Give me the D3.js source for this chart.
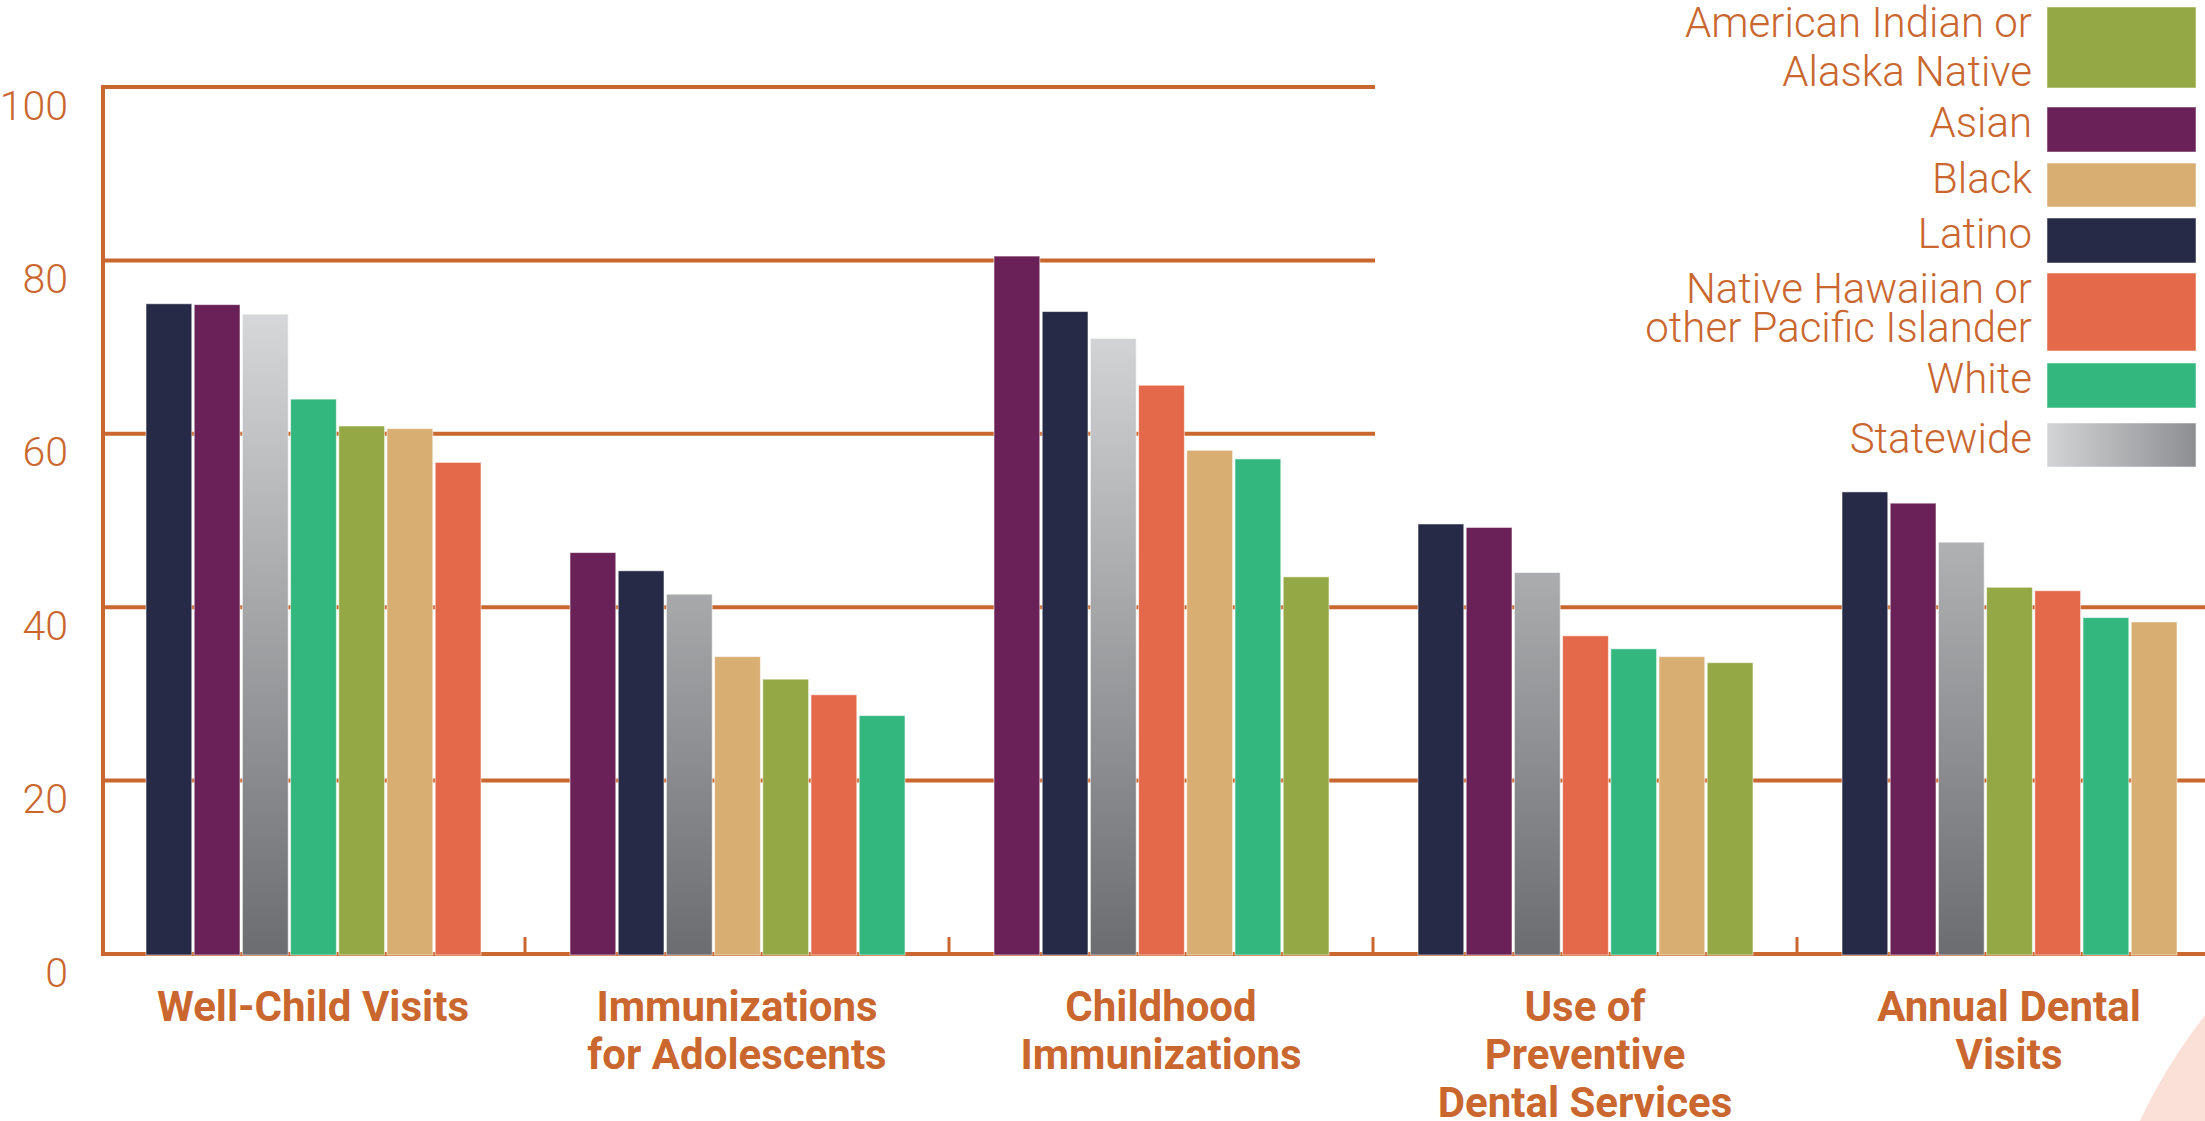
<!DOCTYPE html>
<html>
<head>
<meta charset="utf-8">
<script src="https://cdn.jsdelivr.net/npm/d3@7"></script>
<style>
  body { margin: 0; background: #fff; }
  svg { display: block; }
</style>
</head>
<body>
<div id="chart"></div>
<script>
// categories and values
const categories = ["Well-Child Visits", "Immunizations for Adolescents", "Childhood Immunizations", "Use of Preventive Dental Services", "Annual Dental Visits"]
const categoryLines = [["Well-Child Visits"], ["Immunizations", "for Adolescents"], ["Childhood", "Immunizations"], ["Use of", "Preventive", "Dental Services"], ["Annual Dental", "Visits"]]

const series = ["American Indian or Alaska Native", "Asian", "Black", "Latino", "Native Hawaiian or other Pacific Islander", "White", "Statewide"]
const seriesLines = [["American Indian or", "Alaska Native"], ["Asian"], ["Black"], ["Latino"], ["Native Hawaiian or", "other Pacific Islander"], ["White"], ["Statewide"]]

const aianValues = [60.9, 31.7, 43.5, 33.6, 42.3]
const asianValues = [74.9, 46.3, 80.5, 49.2, 52.0]
const blackValues = [60.6, 34.3, 58.1, 34.3, 38.3]
const latinoValues = [75.0, 44.2, 74.1, 49.6, 53.3]
const nhpiValues = [56.7, 29.9, 65.6, 36.7, 41.9]
const whiteValues = [64.0, 27.5, 57.1, 35.2, 38.8]
const statewideValues = [73.8, 41.5, 71.0, 44.0, 47.5]

const yTicks = [0, 20, 40, 60, 80, 100]

const valuesBySeries = [aianValues, asianValues, blackValues, latinoValues, nhpiValues, whiteValues, statewideValues]

const width = 2205
const height = 1121
const orange = "#c9672f"

const colors = {
    "American Indian or Alaska Native": "#94a945",
    "Asian": "#6a2157",
    "Black": "#d9ae73",
    "Latino": "#272a47",
    "Native Hawaiian or other Pacific Islander": "#e4694a",
    "White": "#33b77f",
    "Statewide": "url(#stateGrad)"
}

/* SCALES */
const x = d3.scaleBand()
    .domain(categories)
    .range([101, 2221])

const inner = d3.scaleBand()
    .domain(d3.range(series.length))
    .range([45, 380])
    .paddingInner(0.05)

const y = d3.scaleLinear()
    .domain([0, 100])
    .range([954, 87])

const svg = d3.select("#chart")
    .append("svg")
    .attr("width", width)
    .attr("height", height)
    .style("background-color", "#fff")

const defs = svg.append("defs")
const grad = defs.append("linearGradient")
    .attr("id", "stateGrad")
    .attr("gradientUnits", "userSpaceOnUse")
    .attr("x1", 0).attr("x2", 0)
    .attr("y1", y(78)).attr("y2", y(0))
grad.append("stop").attr("offset", "0%").attr("stop-color", "#dcdddf")
grad.append("stop").attr("offset", "100%").attr("stop-color", "#6c6d70")

const legGrad = defs.append("linearGradient")
    .attr("id", "legGrad")
    .attr("x1", "0%").attr("x2", "100%")
    .attr("y1", "0%").attr("y2", "0%")
legGrad.append("stop").attr("offset", "0%").attr("stop-color", "#d3d4d6")
legGrad.append("stop").attr("offset", "100%").attr("stop-color", "#8d8e91")

// decoration in the lower right corner
svg.append("circle")
    .attr("cx", 2630)
    .attr("cy", 1350)
    .attr("r", 541)
    .attr("fill", "#fbe0d8")

// GRIDLINES
svg.append("g")
    .selectAll("line.grid")
    .data(yTicks)
    .join("line")
    .attr("class", "grid")
    .attr("x1", 101)
    .attr("x2", d => d >= 60 ? 1375 : width)
    .attr("y1", d => y(d))
    .attr("y2", d => y(d))
    .attr("stroke", orange)
    .attr("stroke-width", 4)

// axis line
svg.append("line")
    .attr("x1", 103).attr("x2", 103)
    .attr("y1", y(100) - 2).attr("y2", y(0) + 2)
    .attr("stroke", orange)
    .attr("stroke-width", 4)

// small ticks between the groups
svg.append("g")
    .selectAll("line.sep")
    .data(categories.slice(1))
    .join("line")
    .attr("class", "sep")
    .attr("x1", d => x(d))
    .attr("x2", d => x(d))
    .attr("y1", y(0))
    .attr("y2", y(0) - 17)
    .attr("stroke", orange)
    .attr("stroke-width", 3)

// y labels
const yAxisGroup = svg.append("g")
    .attr("transform", "translate(103,0)")
    .call(d3.axisLeft(y).tickValues(yTicks).tickSize(0).tickPadding(35))
yAxisGroup.select(".domain").remove()
yAxisGroup.selectAll("text")
    .attr("dy", 32)
    .attr("fill", orange)
    .style("font-family", "Roboto, sans-serif")
    .style("font-weight", 300)
    .style("font-size", "41px")

// BARS
const groups = svg.selectAll("g.group")
    .data(categories)
    .join("g")
    .attr("class", "group")
    .attr("transform", d => `translate(${x(d)},0)`)

groups.selectAll("rect.bar")
    .data((c, ci) => series
        .map((s, si) => ({ series: s, value: valuesBySeries[si][ci] }))
        .sort((a, b) => b.value - a.value))
    .join("rect")
    .attr("class", "bar")
    .attr("x", (d, i) => inner(i))
    .attr("y", d => y(d.value))
    .attr("width", inner.bandwidth())
    .attr("height", d => y(0) - y(d.value) + 1)
    .attr("fill", d => colors[d.series])
    .attr("stroke", "rgba(255,255,255,0.55)")
    .attr("stroke-width", 1)

// category labels
svg.append("g")
    .selectAll("text.cat")
    .data(categories)
    .join("text")
    .attr("class", "cat")
    .attr("x", d => x(d) + x.bandwidth() / 2)
    .attr("y", 1021)
    .attr("text-anchor", "middle")
    .attr("fill", orange)
    .style("font-family", "Roboto, sans-serif")
    .style("font-weight", 700)
    .style("font-size", "42px")
    .selectAll("tspan")
    .data((d, i) => categoryLines[i])
    .join("tspan")
    .attr("x", function () { return this.parentNode.getAttribute("x") })
    .attr("dy", (d, i) => i === 0 ? 0 : 48)
    .text(d => d)

// LEGEND
const legendBoxes = [[7, 81], [107, 45], [163, 44], [218, 45], [273, 78], [363, 45], [423, 44]]
const legendLineGap = [49, 0, 0, 0, 39, 0, 0]

const legend = svg.append("g")
    .selectAll("g.leg")
    .data(series)
    .join("g")
    .attr("class", "leg")

legend.append("rect")
    .attr("x", 2047)
    .attr("y", (d, i) => legendBoxes[i][0])
    .attr("width", 149)
    .attr("height", (d, i) => legendBoxes[i][1])
    .attr("fill", d => d === "Statewide" ? "url(#legGrad)" : colors[d])
    .attr("stroke", "rgba(255,255,255,0.5)")

legend.append("text")
    .attr("text-anchor", "end")
    .attr("fill", orange)
    .style("font-family", "Roboto, sans-serif")
    .style("font-weight", 300)
    .style("font-size", "42px")
    .each(function (d, i) {
        d3.select(this).selectAll("tspan")
            .data(seriesLines[i])
            .join("tspan")
            .attr("x", 2032)
            .attr("y", (t, j) => legendBoxes[i][0] + 30 + j * legendLineGap[i])
            .text(t => t)
    })
</script>
</body>
</html>
